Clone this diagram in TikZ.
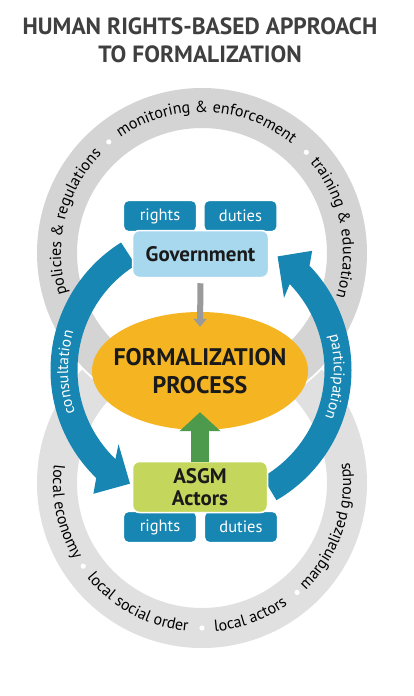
\documentclass[tikz,border=0pt]{standalone}
\usepackage{fontspec}
\setmainfont{PT Sans}
\usetikzlibrary{decorations.text,shapes.geometric,calc,arrows.meta}
\definecolor{ringA}{HTML}{D4D4D4}
\definecolor{ringB}{HTML}{E0E0E0}
\definecolor{tealb}{HTML}{1786B2}
\definecolor{lightb}{HTML}{A8D8EE}
\definecolor{orng}{HTML}{F5B523}
\definecolor{lime}{HTML}{C4D75C}
\definecolor{grn}{HTML}{4E9A4C}
\definecolor{titlec}{HTML}{3F3F3F}
\definecolor{inkc}{HTML}{1A1A1A}
\definecolor{arrgray}{HTML}{9A9A9A}
\begin{document}
\begin{tikzpicture}[x=1pt,y=1pt,
  tab/.style={rounded corners=5, fill=tealb, draw=white, line width=1.2, minimum width=73, minimum height=31, inner sep=0, text=white, font=\fontsize{16.5}{16.5}\selectfont},
  actor/.style={rounded corners=7, draw=white, line width=1.5, inner sep=0, text=inkc, font=\fontsize{21}{22}\selectfont\bfseries, align=center},
  ringtxt/.style={decorate, decoration={text along path, text align=center, text={|\fontsize{16}{16}\selectfont|#1}}},
  bluetxt/.style={decorate, decoration={text along path, text align=center, text color=white, text={|\fontsize{15.5}{15.5}\selectfont|#1}}},
  ringdot/.style={fill=white, draw=none}
]
\useasboundingbox (0,0) rectangle (413,-696);
\fill[white] (0,0) rectangle (413,-696);

\node[font=\fontsize{23.5}{28}\selectfont\bfseries, text=titlec, align=center] (title) at (200,-40) {HUMAN RIGHTS-BASED APPROACH\\TO FORMALIZATION};

\coordinate (T) at (202,-253);
\coordinate (B) at (202,-483);
\coordinate (C) at (201,-370);

% rings
\draw[ringB, line width=40] (B) circle[radius=145];
\draw[white, line width=44] (T) circle[radius=145];
\draw[ringA, line width=40] (T) circle[radius=145];

% top ring texts (clockwise)
\path[ringtxt={policies {\&} regulations}] (T) ++(206:141) arc[start angle=206, end angle=126, radius=141];
\path[ringtxt={monitoring {\&} enforcement}] (T) ++(133:141) arc[start angle=133, end angle=43, radius=141];
\path[ringtxt={training {\&} education}] (T) ++(51:141) arc[start angle=51, end angle=-29, radius=141];
\fill[ringdot] (T) ++(130:145) circle[radius=2.6];
\fill[ringdot] (T) ++(44:145) circle[radius=2.6];

% bottom ring texts (counterclockwise)
\path[ringtxt={local economy}] (B) ++(162:149) arc[start angle=162, end angle=222, radius=149];
\path[ringtxt={local social order}] (B) ++(212:149) arc[start angle=212, end angle=272, radius=149];
\path[ringtxt={local actors}] (B) ++(260:149) arc[start angle=260, end angle=320, radius=149];
\path[ringtxt={marginalized groups}] (B) ++(301:149) arc[start angle=301, end angle=381, radius=149];
\fill[ringdot] (B) ++(215:145) circle[radius=2.6];
\fill[ringdot] (B) ++(270:145) circle[radius=2.6];
\fill[ringdot] (B) ++(311:145) circle[radius=2.6];

% blue circular arrows
\draw[tealb, line width=27] (C) ++(122:137) arc[start angle=122, end angle=226.5, radius=137];
\fill[tealb] ($(C)+(226:123)$) -- ($(C)+(222:111)$) -- ($(C)+(238:134)$) -- ($(C)+(229:164)$) -- ($(C)+(226:151)$) -- cycle;
\draw[tealb, line width=27] (C) ++(-60:137) arc[start angle=-60, end angle=44.5, radius=137];
\fill[tealb] ($(C)+(44:123)$) -- ($(C)+(41:110)$) -- ($(C)+(56:137)$) -- ($(C)+(47:163)$) -- ($(C)+(44:151)$) -- cycle;
\path[bluetxt={consultation}] (C) ++(206:133) arc[start angle=206, end angle=156, radius=133];
\path[bluetxt={participation}] (C) ++(24:133) arc[start angle=24, end angle=-30, radius=133];

% tabs and actor boxes
\node[tab] (rt1) at (160,-216) {rights};
\node[tab] (dt1) at (240.5,-216) {duties};
\node[actor, fill=lightb, minimum width=136, minimum height=47] (gov) at (200.5,-254) {Government};
\node[tab] (rt2) at (160,-527) {rights};
\node[tab] (dt2) at (241,-527) {duties};
\node[actor, fill=lime, minimum width=135, minimum height=51] (asgm) at (200,-487) {ASGM\\Actors};

% process
\node[ellipse, fill=orng, minimum width=216, minimum height=118, inner sep=0] (proc) at (200,-371) {};
\node[align=center, font=\fontsize{24}{28}\selectfont\bfseries, text=inkc, inner sep=0] (proct) at (proc.center) {FORMALIZATION\\PROCESS};

% arrows
\draw[arrgray, line width=6, -{Triangle[width=13pt,length=8pt]}] ([yshift=-5]gov.south) -- ([yshift=-15]proc.north);
\draw[grn, line width=18, -{Triangle[width=40pt,length=19pt]}] ([yshift=-1]asgm.north) -- ([yshift=18]proc.south);
\end{tikzpicture}
\end{document}
